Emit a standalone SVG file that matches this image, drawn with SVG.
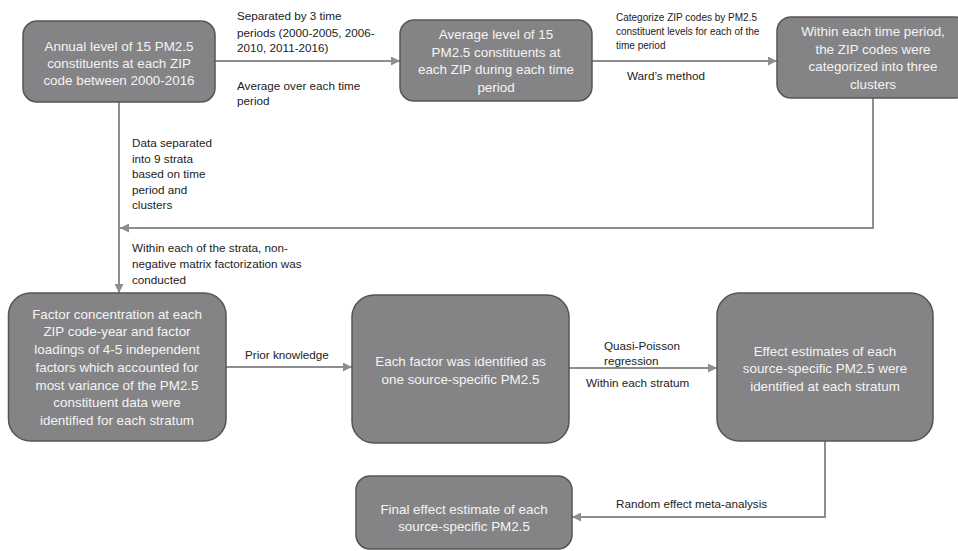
<svg xmlns="http://www.w3.org/2000/svg" width="958" height="551" viewBox="0 0 958 551">
<defs>
<marker id="ah" viewBox="0 0 10 10" refX="10" refY="5" markerWidth="10" markerHeight="9" markerUnits="userSpaceOnUse" orient="auto">
<path d="M0,0 L10,5 L0,10 Z" fill="#8e8e8e"/>
</marker>
<style>
.box{fill:#848486;stroke:#555;stroke-width:1.5}
.bt{font-family:"Liberation Sans",Arial,sans-serif;font-size:13.4px;fill:#f4f4f4;text-anchor:middle}
.lb{font-family:"Liberation Sans",Arial,sans-serif;font-size:11.7px;fill:#222}
.sm{font-family:"Liberation Sans",Arial,sans-serif;font-size:10px;fill:#222}
.cn{fill:none;stroke:#8e8e8e;stroke-width:2;marker-end:url(#ah)}
</style>
</defs>
<rect width="958" height="551" fill="#fff"/>
<g id="connectors">
<path class="cn" d="M215,61 H400"/>
<path class="cn" d="M592,61 H777"/>
<path class="cn" d="M873,98 V228 H120"/>
<path class="cn" d="M119,102 V293"/>
<path class="cn" d="M226,367 H352"/>
<path class="cn" d="M569,368 H717"/>
<path class="cn" d="M825,441 V517 H572"/>
</g>
<g id="labels">
<text class="lb" x="237" y="20">Separated by 3 time</text>
<text class="lb" x="237" y="36.5">periods (2000-2005, 2006-</text>
<text class="lb" x="237" y="52">2010, 2011-2016)</text>
<text class="lb" x="237" y="90">Average over each time</text>
<text class="lb" x="237" y="105">period</text>
<text class="sm" x="616" y="20.5">Categorize ZIP codes by PM2.5</text>
<text class="sm" x="616" y="34.5">constituent levels for each of the</text>
<text class="sm" x="616" y="48.5">time period</text>
<text class="lb" x="627" y="80">Ward’s method</text>
<text class="lb" x="132" y="147">Data separated</text>
<text class="lb" x="132" y="162.5">into 9 strata</text>
<text class="lb" x="132" y="178">based on time</text>
<text class="lb" x="132" y="193.5">period and</text>
<text class="lb" x="132" y="209">clusters</text>
<text class="lb" x="132" y="252">Within each of the strata, non-</text>
<text class="lb" x="132" y="268">negative matrix factorization was</text>
<text class="lb" x="132" y="284">conducted</text>
<text class="lb" x="245" y="359">Prior knowledge</text>
<text class="lb" x="604" y="350">Quasi-Poisson</text>
<text class="lb" x="604" y="365">regression</text>
<text class="lb" x="586" y="387">Within each stratum</text>
<text class="lb" x="616" y="508">Random effect meta-analysis</text>
</g>
<g id="n1">
<rect class="box" x="23" y="21" width="192" height="81" rx="14"/>
<text class="bt" x="119" y="50.7">Annual level of 15 PM2.5</text>
<text class="bt" x="119" y="67.7">constituents at each ZIP</text>
<text class="bt" x="119" y="84.7">code between 2000-2016</text>
</g>
<g id="n2">
<rect class="box" x="400" y="20" width="192" height="81" rx="14"/>
<text class="bt" x="496" y="39">Average level of 15</text>
<text class="bt" x="496" y="56.5">PM2.5 constituents at</text>
<text class="bt" x="496" y="74">each ZIP during each time</text>
<text class="bt" x="496" y="91.5">period</text>
</g>
<g id="n3">
<rect class="box" x="777" y="17" width="192" height="81" rx="14"/>
<text class="bt" x="873" y="36">Within each time period,</text>
<text class="bt" x="873" y="53.5">the ZIP codes were</text>
<text class="bt" x="873" y="71">categorized into three</text>
<text class="bt" x="873" y="88.5">clusters</text>
</g>
<g id="n4">
<rect class="box" x="8.5" y="293" width="217.5" height="148" rx="22"/>
<text class="bt" x="117" y="318.7">Factor concentration at each</text>
<text class="bt" x="117" y="336.4">ZIP code-year and factor</text>
<text class="bt" x="117" y="354.1">loadings of 4-5 independent</text>
<text class="bt" x="117" y="371.8">factors which accounted for</text>
<text class="bt" x="117" y="389.5">most variance of the PM2.5</text>
<text class="bt" x="117" y="407.2">constituent data were</text>
<text class="bt" x="117" y="424.9">identified for each stratum</text>
</g>
<g id="n5">
<rect class="box" x="352" y="295" width="217" height="148" rx="22"/>
<text class="bt" x="460.5" y="365.7">Each factor was identified as</text>
<text class="bt" x="460.5" y="383.7">one source-specific PM2.5</text>
</g>
<g id="n6">
<rect class="box" x="717" y="293" width="216" height="148" rx="22"/>
<text class="bt" x="825" y="355.7">Effect estimates of each</text>
<text class="bt" x="825" y="373.2">source-specific PM2.5 were</text>
<text class="bt" x="825" y="390.7">identified at each stratum</text>
</g>
<g id="n7">
<rect class="box" x="356" y="476" width="216" height="73" rx="14"/>
<text class="bt" x="464" y="513.7">Final effect estimate of each</text>
<text class="bt" x="464" y="530.7">source-specific PM2.5</text>
</g>
</svg>
